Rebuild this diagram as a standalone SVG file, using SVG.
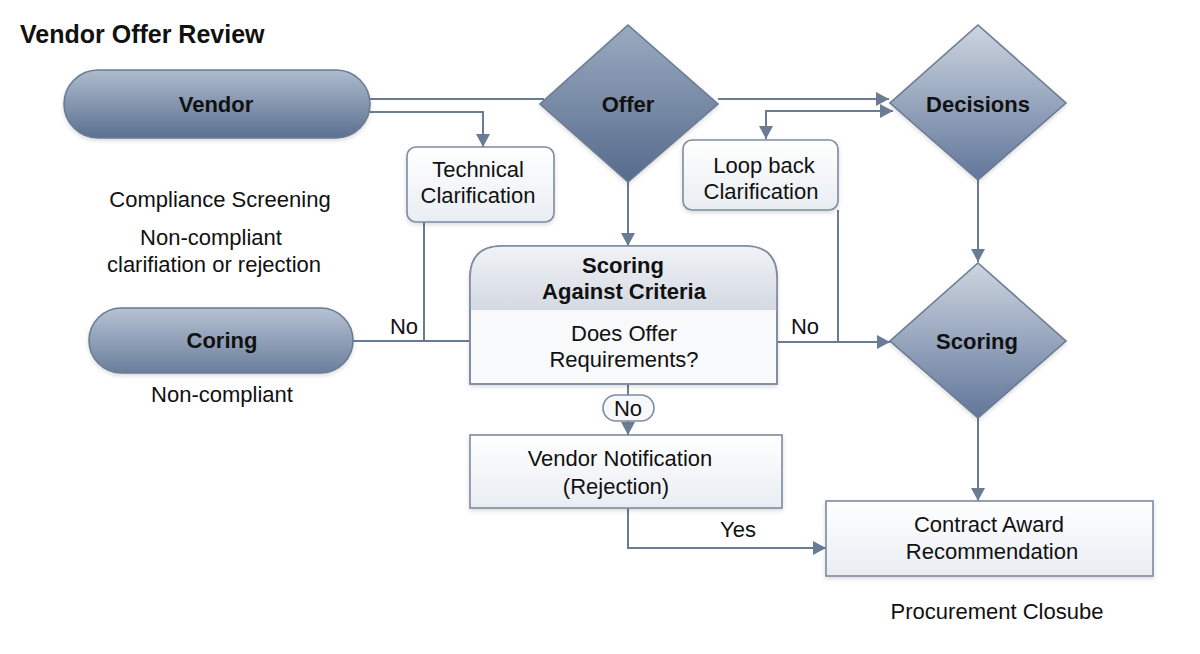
<svg xmlns="http://www.w3.org/2000/svg" width="1200" height="654" viewBox="0 0 1200 654">
<defs>
<linearGradient id="gPill" x1="0" y1="0" x2="0" y2="1"><stop offset="0" stop-color="#adbbce"/><stop offset="1" stop-color="#5b7090"/></linearGradient>
<linearGradient id="gPill2" x1="0" y1="0" x2="0" y2="1"><stop offset="0" stop-color="#b6c2d3"/><stop offset="1" stop-color="#6a7e9c"/></linearGradient>
<linearGradient id="gDia" x1="0" y1="0" x2="0" y2="1"><stop offset="0" stop-color="#cdd5e0"/><stop offset="1" stop-color="#61769a"/></linearGradient>
<linearGradient id="gDiaDark" x1="0" y1="0" x2="0" y2="1"><stop offset="0" stop-color="#9aaac0"/><stop offset="1" stop-color="#566b8c"/></linearGradient>
<linearGradient id="gBox" x1="0" y1="0" x2="0" y2="1"><stop offset="0" stop-color="#ffffff"/><stop offset="1" stop-color="#e9edf2"/></linearGradient>
<linearGradient id="gHead" x1="0" y1="0" x2="0" y2="1"><stop offset="0" stop-color="#f1f3f6"/><stop offset="1" stop-color="#d3d9e2"/></linearGradient>
<filter id="sh" x="-10%" y="-10%" width="120%" height="130%"><feDropShadow dx="0" dy="2" stdDeviation="2" flood-color="#000" flood-opacity="0.15"/></filter>
<marker id="ah" markerUnits="userSpaceOnUse" markerWidth="14" markerHeight="14" refX="13" refY="7" orient="auto-start-reverse"><path d="M0,0 L13,7 L0,14 z" fill="#6a7b94"/></marker>
</defs>
<style>
text{font-family:"Liberation Sans",Arial,sans-serif;fill:#111;}
.t{font-size:22px;text-anchor:middle;}
.b{font-size:22px;font-weight:bold;text-anchor:middle;}
.node{stroke:#6b7b92;stroke-width:1.6;}
.box{fill:url(#gBox);stroke:#7d8ba0;stroke-width:1.6;}
.c{fill:none;stroke:#6a7b94;stroke-width:2;}
.ca{fill:none;stroke:#6a7b94;stroke-width:2;marker-end:url(#ah);}
</style>
<rect width="1200" height="654" fill="#ffffff"/>
<text x="20" y="43" style="font-size:25px;font-weight:bold;">Vendor Offer Review</text>

<g id="connectors">
<path class="c" d="M370,99 H544"/>
<path class="ca" d="M370,112 H483 V147"/>
<path class="ca" d="M718,99 H889"/>
<path class="ca" d="M766,139 V111 H893" style="marker-start:url(#ah)"/>
<path class="ca" d="M628,182 V246"/>
<path class="ca" d="M978,180 V262"/>
<path class="c" d="M424,222 V341"/>
<path class="c" d="M353,341 H470"/>
<path class="c" d="M838,210 V342"/>
<path class="ca" d="M777,342 H890"/>
<path class="c" d="M628,384 V395"/>
<path class="ca" d="M628,421 V435"/>
<path class="ca" d="M628,508 V548 H826"/>
<path class="ca" d="M978,418 V501"/>
</g>

<g id="vendor"><rect class="node" x="64" y="70" width="306" height="68" rx="34" fill="url(#gPill)" filter="url(#sh)"/><text class="b" x="216" y="112">Vendor</text></g>
<g id="offer"><polygon class="node" points="628,25 718,104 628,182 540,104" fill="url(#gDiaDark)" filter="url(#sh)"/><text class="b" x="628" y="112">Offer</text></g>
<g id="decisions"><polygon class="node" points="978,25 1066,103 978,180 890,103" fill="url(#gDia)" filter="url(#sh)"/><text class="b" x="978" y="112">Decisions</text></g>
<g id="technical-clarification"><rect class="box" x="407" y="147" width="147" height="75" rx="9" filter="url(#sh)"/><text class="t" x="478" y="177">Technical</text><text class="t" x="478" y="203">Clarification</text></g>
<g id="loop-back"><rect class="box" x="683" y="140" width="155" height="70" rx="9" filter="url(#sh)"/><text class="t" x="764" y="173">Loop back</text><text class="t" x="761" y="199">Clarification</text></g>
<g id="compliance-notes"><text class="t" x="220" y="207">Compliance Screening</text><text class="t" x="211" y="245">Non-compliant</text><text class="t" x="214" y="272">clarifiation or rejection</text></g>
<g id="scoring-criteria">
<path d="M470,384 V278 Q470,246 502,246 H745 Q777,246 777,278 V384 Z" fill="#f8f9fb" stroke="#7d8ba0" stroke-width="1.6" filter="url(#sh)"/>
<path d="M470,310 V278 Q470,246 502,246 H745 Q777,246 777,278 V310 Z" fill="url(#gHead)"/>
<path d="M470,384 V278 Q470,246 502,246 H745 Q777,246 777,278 V384 Z" fill="none" stroke="#7d8ba0" stroke-width="1.6"/>
<text class="b" x="623" y="273">Scoring</text><text class="b" x="624" y="299">Against Criteria</text>
<text class="t" x="624" y="341">Does Offer</text><text class="t" x="624" y="367">Requirements?</text>
</g>
<g id="coring"><rect class="node" x="89" y="308" width="264" height="65" rx="32.5" fill="url(#gPill2)" filter="url(#sh)"/><text class="b" x="222" y="348">Coring</text></g>
<g id="non-compliant"><text class="t" x="222" y="402">Non-compliant</text></g>
<g id="label-no1"><text class="t" x="404" y="334">No</text></g>
<g id="label-no2"><text class="t" x="805" y="334">No</text></g>
<g id="scoring"><polygon class="node" points="978,263 1066,341 978,418 890,341" fill="url(#gDia)" filter="url(#sh)"/><text class="b" x="977" y="349">Scoring</text></g>
<g id="no-pill"><rect x="603" y="395" width="51" height="26" rx="13" fill="#f7f8fa" stroke="#7d8ba0" stroke-width="1.6"/><text class="t" x="628" y="416">No</text></g>
<g id="vendor-notification"><rect class="box" x="470" y="435" width="312" height="73" filter="url(#sh)"/><text class="t" x="620" y="466">Vendor Notification</text><text class="t" x="616" y="494">(Rejection)</text></g>
<g id="label-yes"><text class="t" x="738" y="537">Yes</text></g>
<g id="contract-award"><rect class="box" x="826" y="501" width="327" height="75" filter="url(#sh)"/><text class="t" x="989" y="532">Contract Award</text><text class="t" x="992" y="559">Recommendation</text></g>
<g id="procurement-closure"><text class="t" x="997" y="619">Procurement Closube</text></g>
</svg>
